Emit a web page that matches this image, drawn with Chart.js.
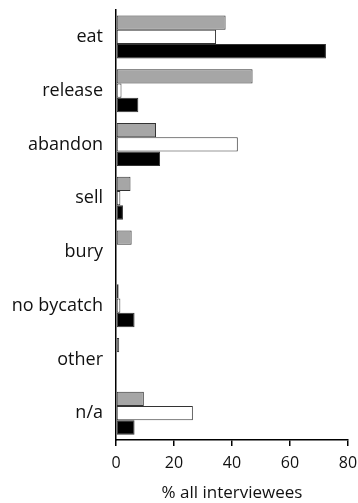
<!DOCTYPE html>
<html>
<head>
<meta charset="utf-8">
<script src="https://cdn.jsdelivr.net/npm/chart.js@4/dist/chart.umd.min.js"></script>
<style>
  html, body { margin: 0; padding: 0; background: #fff; }
  #wrap { width: 358px; height: 503px; position: relative; }
</style>
</head>
<body>
<div id="wrap"><canvas id="c" width="358" height="503"></canvas></div>
<script>
// Fate of bycatch, share of interviewees per answer
const categories = ['eat', 'release', 'abandon', 'sell', 'bury', 'no bycatch', 'other', 'n/a'];
const seriesGray  = [37.8, 47.1, 13.8, 5.0, 5.4, 0.9, 1.1, 9.6];
const seriesWhite = [34.5, 1.9, 42.0, 1.5, 0, 1.5, 0, 26.5];
const seriesBlack = [72.4, 7.7, 15.2, 2.4, 0, 6.4, 0, 6.4];
const xTicks = [0, 20, 40, 60, 80];

const FONT = '"Open Sans", Lato, sans-serif';

const barStyle = { borderWidth: 1, borderColor: '#333', borderSkipped: false,
  categoryPercentage: 0.8, barPercentage: 1.0 };

new Chart(document.getElementById('c'), {
  type: 'bar',
  data: {
    labels: categories,
    datasets: [
      Object.assign({ label: 'gray', data: seriesGray, backgroundColor: '#a6a6a6' }, barStyle),
      Object.assign({ label: 'white', data: seriesWhite, backgroundColor: '#ffffff' }, barStyle),
      Object.assign({ label: 'black', data: seriesBlack, backgroundColor: '#000000', borderColor: '#000' }, barStyle)
    ]
  },
  options: {
    indexAxis: 'y',
    responsive: false,
    animation: false,
    devicePixelRatio: 1,
    layout: { padding: { top: 10, right: 10, left: 0, bottom: 0 } },
    plugins: { legend: { display: false }, tooltip: { enabled: false } },
    scales: {
      x: {
        min: 0, max: 80,
        afterBuildTicks: (s) => { s.ticks = xTicks.map(v => ({ value: v })); },
        grid: { drawOnChartArea: false, drawTicks: true, tickLength: 6, color: '#000', lineWidth: 1.5 },
        border: { display: true, color: '#000', width: 1.5 },
        ticks: { color: '#111', font: { family: FONT, size: 16 }, padding: 8, maxRotation: 0 },
        title: { display: true, text: '% all interviewees', color: '#111',
          font: { family: FONT, size: 17 }, padding: { top: 0, bottom: 0 } },
        afterFit: (s) => { s.height = 63; s.paddingLeft = 0; s.paddingRight = 0; }
      },
      y: {
        grid: { display: false },
        border: { display: true, color: '#000', width: 1.5 },
        ticks: { color: '#111', font: { family: FONT, size: 18 }, padding: 5 },
        afterFit: (s) => { s.width = 116; s.paddingTop = 0; s.paddingBottom = 0; }
      }
    }
  }
});
</script>
</body>
</html>
